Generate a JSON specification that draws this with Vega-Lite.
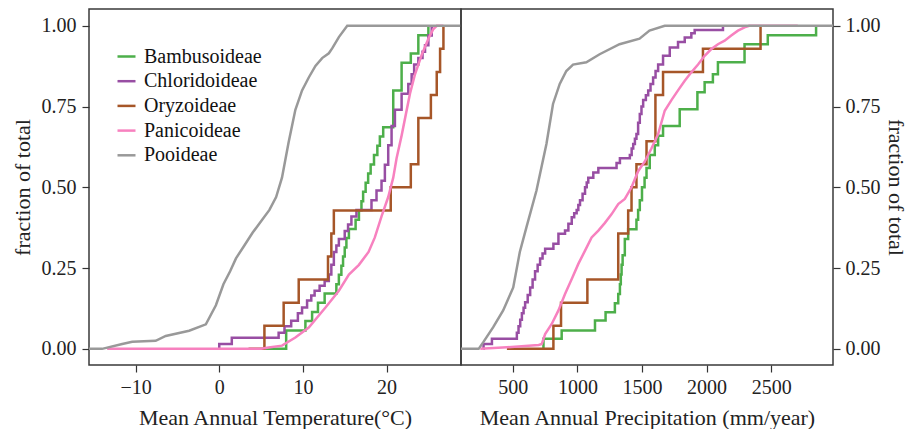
{
  "$schema": "https://vega.github.io/schema/vega-lite/v6.json",
  "padding": {"left": 10, "top": 8, "right": 0, "bottom": 0},
  "autosize": {"type": "pad"},
  "spacing": 0,
  "bounds": "flush",
  "background": "white",
  "config": {
    "font": "Liberation Serif",
    "view": {"stroke": "#3a3a3a", "strokeWidth": 1.5},
    "axis": {
      "grid": false, "domain": false, "tickColor": "#333333", "tickSize": 7, "tickWidth": 1.2,
      "labelFont": "Liberation Serif", "labelFontSize": 20, "labelColor": "#222222",
      "titleFont": "Liberation Serif", "titleFontSize": 22, "titleFontWeight": "normal", "titleColor": "#222222"
    }
  },
  "resolve": {
    "scale": {"x": "independent", "y": "independent", "color": "independent"},
    "legend": {"color": "independent"}
  },
  "datasets": {
    "temp": [
      {"g": "Bambusoideae", "x": 5.5, "y": 0},
      {"g": "Bambusoideae", "x": 8.0, "y": 0.057},
      {"g": "Bambusoideae", "x": 10.3, "y": 0.086},
      {"g": "Bambusoideae", "x": 11.1, "y": 0.114},
      {"g": "Bambusoideae", "x": 11.8, "y": 0.143},
      {"g": "Bambusoideae", "x": 12.6, "y": 0.171},
      {"g": "Bambusoideae", "x": 14.0, "y": 0.2},
      {"g": "Bambusoideae", "x": 14.3, "y": 0.229},
      {"g": "Bambusoideae", "x": 14.6, "y": 0.257},
      {"g": "Bambusoideae", "x": 14.8, "y": 0.286},
      {"g": "Bambusoideae", "x": 15.0, "y": 0.314},
      {"g": "Bambusoideae", "x": 15.2, "y": 0.343},
      {"g": "Bambusoideae", "x": 15.5, "y": 0.371},
      {"g": "Bambusoideae", "x": 16.3, "y": 0.4},
      {"g": "Bambusoideae", "x": 16.7, "y": 0.429},
      {"g": "Bambusoideae", "x": 17.0, "y": 0.457},
      {"g": "Bambusoideae", "x": 17.2, "y": 0.486},
      {"g": "Bambusoideae", "x": 17.5, "y": 0.514},
      {"g": "Bambusoideae", "x": 17.8, "y": 0.543},
      {"g": "Bambusoideae", "x": 18.1, "y": 0.571},
      {"g": "Bambusoideae", "x": 18.5, "y": 0.6},
      {"g": "Bambusoideae", "x": 18.9, "y": 0.629},
      {"g": "Bambusoideae", "x": 19.2, "y": 0.657},
      {"g": "Bambusoideae", "x": 19.6, "y": 0.686},
      {"g": "Bambusoideae", "x": 20.8, "y": 0.8},
      {"g": "Bambusoideae", "x": 21.8, "y": 0.886},
      {"g": "Bambusoideae", "x": 22.9, "y": 0.914},
      {"g": "Bambusoideae", "x": 23.8, "y": 0.971},
      {"g": "Bambusoideae", "x": 25.0, "y": 1.0},
      {"g": "Chloridoideae", "x": -0.01, "y": 0},
      {"g": "Chloridoideae", "x": 0.0, "y": 0.015},
      {"g": "Chloridoideae", "x": 1.5, "y": 0.034},
      {"g": "Chloridoideae", "x": 7.1, "y": 0.05},
      {"g": "Chloridoideae", "x": 7.8, "y": 0.07},
      {"g": "Chloridoideae", "x": 8.6, "y": 0.087},
      {"g": "Chloridoideae", "x": 9.4, "y": 0.11},
      {"g": "Chloridoideae", "x": 9.9, "y": 0.128},
      {"g": "Chloridoideae", "x": 10.5, "y": 0.15},
      {"g": "Chloridoideae", "x": 11.0, "y": 0.165},
      {"g": "Chloridoideae", "x": 11.4, "y": 0.18},
      {"g": "Chloridoideae", "x": 12.0, "y": 0.195},
      {"g": "Chloridoideae", "x": 12.6, "y": 0.21},
      {"g": "Chloridoideae", "x": 13.1, "y": 0.23},
      {"g": "Chloridoideae", "x": 13.4, "y": 0.26},
      {"g": "Chloridoideae", "x": 13.7, "y": 0.3},
      {"g": "Chloridoideae", "x": 14.0, "y": 0.32},
      {"g": "Chloridoideae", "x": 14.3, "y": 0.34},
      {"g": "Chloridoideae", "x": 15.0, "y": 0.365},
      {"g": "Chloridoideae", "x": 15.4, "y": 0.385},
      {"g": "Chloridoideae", "x": 15.8, "y": 0.41},
      {"g": "Chloridoideae", "x": 16.4, "y": 0.43},
      {"g": "Chloridoideae", "x": 18.2, "y": 0.46},
      {"g": "Chloridoideae", "x": 18.8, "y": 0.49},
      {"g": "Chloridoideae", "x": 19.4, "y": 0.52},
      {"g": "Chloridoideae", "x": 19.8, "y": 0.57},
      {"g": "Chloridoideae", "x": 20.2, "y": 0.63},
      {"g": "Chloridoideae", "x": 20.6, "y": 0.69},
      {"g": "Chloridoideae", "x": 21.0, "y": 0.74},
      {"g": "Chloridoideae", "x": 21.8, "y": 0.79},
      {"g": "Chloridoideae", "x": 22.6, "y": 0.82},
      {"g": "Chloridoideae", "x": 23.0, "y": 0.85},
      {"g": "Chloridoideae", "x": 23.3, "y": 0.88},
      {"g": "Chloridoideae", "x": 23.8, "y": 0.9},
      {"g": "Chloridoideae", "x": 24.3, "y": 0.92},
      {"g": "Chloridoideae", "x": 24.6, "y": 0.94},
      {"g": "Chloridoideae", "x": 25.0, "y": 0.97},
      {"g": "Chloridoideae", "x": 25.4, "y": 1.0},
      {"g": "Oryzoideae", "x": 3.5, "y": 0},
      {"g": "Oryzoideae", "x": 5.4, "y": 0.0714},
      {"g": "Oryzoideae", "x": 7.7, "y": 0.1429},
      {"g": "Oryzoideae", "x": 9.5, "y": 0.2143},
      {"g": "Oryzoideae", "x": 13.0, "y": 0.2857},
      {"g": "Oryzoideae", "x": 13.4, "y": 0.3571},
      {"g": "Oryzoideae", "x": 13.7, "y": 0.4286},
      {"g": "Oryzoideae", "x": 20.5, "y": 0.5},
      {"g": "Oryzoideae", "x": 22.9, "y": 0.5714},
      {"g": "Oryzoideae", "x": 23.8, "y": 0.7143},
      {"g": "Oryzoideae", "x": 25.3, "y": 0.7857},
      {"g": "Oryzoideae", "x": 26.0, "y": 0.8571},
      {"g": "Oryzoideae", "x": 26.4, "y": 0.9286},
      {"g": "Oryzoideae", "x": 26.8, "y": 1.0},
      {"g": "Panicoideae", "x": -13.4, "y": 0},
      {"g": "Panicoideae", "x": 5.0, "y": 0},
      {"g": "Panicoideae", "x": 5.9, "y": 0.004},
      {"g": "Panicoideae", "x": 7.5, "y": 0.01},
      {"g": "Panicoideae", "x": 9.1, "y": 0.035},
      {"g": "Panicoideae", "x": 10.7, "y": 0.066},
      {"g": "Panicoideae", "x": 12.7, "y": 0.128},
      {"g": "Panicoideae", "x": 14.3, "y": 0.18},
      {"g": "Panicoideae", "x": 15.5, "y": 0.23},
      {"g": "Panicoideae", "x": 16.7, "y": 0.26},
      {"g": "Panicoideae", "x": 17.85, "y": 0.3},
      {"g": "Panicoideae", "x": 18.6, "y": 0.345},
      {"g": "Panicoideae", "x": 19.4, "y": 0.41},
      {"g": "Panicoideae", "x": 20.2, "y": 0.47},
      {"g": "Panicoideae", "x": 20.8, "y": 0.53},
      {"g": "Panicoideae", "x": 21.2, "y": 0.59},
      {"g": "Panicoideae", "x": 21.8, "y": 0.66},
      {"g": "Panicoideae", "x": 22.8, "y": 0.79},
      {"g": "Panicoideae", "x": 23.4, "y": 0.85},
      {"g": "Panicoideae", "x": 24.2, "y": 0.91},
      {"g": "Panicoideae", "x": 25.0, "y": 0.96},
      {"g": "Panicoideae", "x": 25.6, "y": 0.99},
      {"g": "Panicoideae", "x": 26.0, "y": 1.0},
      {"g": "Panicoideae", "x": 26.8, "y": 1.0},
      {"g": "Pooideae", "x": -17, "y": 0},
      {"g": "Pooideae", "x": -14, "y": 0},
      {"g": "Pooideae", "x": -11.6, "y": 0.015},
      {"g": "Pooideae", "x": -10.4, "y": 0.022},
      {"g": "Pooideae", "x": -7.6, "y": 0.025},
      {"g": "Pooideae", "x": -6.4, "y": 0.04},
      {"g": "Pooideae", "x": -3.6, "y": 0.056},
      {"g": "Pooideae", "x": -1.6, "y": 0.076},
      {"g": "Pooideae", "x": -0.4, "y": 0.135},
      {"g": "Pooideae", "x": 0.5, "y": 0.2},
      {"g": "Pooideae", "x": 1.3, "y": 0.24},
      {"g": "Pooideae", "x": 2.0, "y": 0.28},
      {"g": "Pooideae", "x": 3.0, "y": 0.32},
      {"g": "Pooideae", "x": 4.0, "y": 0.36},
      {"g": "Pooideae", "x": 5.0, "y": 0.395},
      {"g": "Pooideae", "x": 6.0, "y": 0.43},
      {"g": "Pooideae", "x": 6.8, "y": 0.47},
      {"g": "Pooideae", "x": 7.5, "y": 0.53},
      {"g": "Pooideae", "x": 8.3, "y": 0.64},
      {"g": "Pooideae", "x": 9.1, "y": 0.74},
      {"g": "Pooideae", "x": 9.9, "y": 0.8},
      {"g": "Pooideae", "x": 10.7, "y": 0.84},
      {"g": "Pooideae", "x": 11.5, "y": 0.876},
      {"g": "Pooideae", "x": 12.3, "y": 0.9},
      {"g": "Pooideae", "x": 13.1, "y": 0.915},
      {"g": "Pooideae", "x": 13.5, "y": 0.93},
      {"g": "Pooideae", "x": 14.3, "y": 0.965},
      {"g": "Pooideae", "x": 15.3, "y": 1.0},
      {"g": "Pooideae", "x": 31, "y": 1.0}
    ],
    "prec": [
      {"g": "Bambusoideae", "x": 736, "y": 0},
      {"g": "Bambusoideae", "x": 737, "y": 0.031},
      {"g": "Bambusoideae", "x": 878, "y": 0.057},
      {"g": "Bambusoideae", "x": 1136, "y": 0.088},
      {"g": "Bambusoideae", "x": 1218, "y": 0.113},
      {"g": "Bambusoideae", "x": 1290, "y": 0.141},
      {"g": "Bambusoideae", "x": 1316, "y": 0.17},
      {"g": "Bambusoideae", "x": 1329, "y": 0.2},
      {"g": "Bambusoideae", "x": 1336, "y": 0.23},
      {"g": "Bambusoideae", "x": 1342, "y": 0.26},
      {"g": "Bambusoideae", "x": 1350, "y": 0.29},
      {"g": "Bambusoideae", "x": 1367, "y": 0.34},
      {"g": "Bambusoideae", "x": 1393, "y": 0.37},
      {"g": "Bambusoideae", "x": 1457, "y": 0.4},
      {"g": "Bambusoideae", "x": 1470, "y": 0.43},
      {"g": "Bambusoideae", "x": 1483, "y": 0.46},
      {"g": "Bambusoideae", "x": 1500, "y": 0.5},
      {"g": "Bambusoideae", "x": 1520, "y": 0.53},
      {"g": "Bambusoideae", "x": 1535, "y": 0.56},
      {"g": "Bambusoideae", "x": 1560, "y": 0.6},
      {"g": "Bambusoideae", "x": 1599, "y": 0.63},
      {"g": "Bambusoideae", "x": 1625, "y": 0.66},
      {"g": "Bambusoideae", "x": 1663, "y": 0.69},
      {"g": "Bambusoideae", "x": 1792, "y": 0.742},
      {"g": "Bambusoideae", "x": 1929, "y": 0.794},
      {"g": "Bambusoideae", "x": 1985, "y": 0.825},
      {"g": "Bambusoideae", "x": 2049, "y": 0.85},
      {"g": "Bambusoideae", "x": 2088, "y": 0.887},
      {"g": "Bambusoideae", "x": 2294, "y": 0.943},
      {"g": "Bambusoideae", "x": 2474, "y": 0.971},
      {"g": "Bambusoideae", "x": 2848, "y": 1.0},
      {"g": "Chloridoideae", "x": 272, "y": 0},
      {"g": "Chloridoideae", "x": 273, "y": 0.015},
      {"g": "Chloridoideae", "x": 338, "y": 0.031},
      {"g": "Chloridoideae", "x": 531, "y": 0.05},
      {"g": "Chloridoideae", "x": 544, "y": 0.07},
      {"g": "Chloridoideae", "x": 557, "y": 0.09},
      {"g": "Chloridoideae", "x": 570, "y": 0.11},
      {"g": "Chloridoideae", "x": 583, "y": 0.127},
      {"g": "Chloridoideae", "x": 595, "y": 0.144},
      {"g": "Chloridoideae", "x": 615, "y": 0.167},
      {"g": "Chloridoideae", "x": 634, "y": 0.19},
      {"g": "Chloridoideae", "x": 653, "y": 0.215},
      {"g": "Chloridoideae", "x": 672, "y": 0.24},
      {"g": "Chloridoideae", "x": 692, "y": 0.26},
      {"g": "Chloridoideae", "x": 711, "y": 0.28},
      {"g": "Chloridoideae", "x": 730, "y": 0.295},
      {"g": "Chloridoideae", "x": 750, "y": 0.31},
      {"g": "Chloridoideae", "x": 814, "y": 0.325},
      {"g": "Chloridoideae", "x": 853, "y": 0.356},
      {"g": "Chloridoideae", "x": 904, "y": 0.366},
      {"g": "Chloridoideae", "x": 930, "y": 0.387},
      {"g": "Chloridoideae", "x": 956, "y": 0.407},
      {"g": "Chloridoideae", "x": 975, "y": 0.42},
      {"g": "Chloridoideae", "x": 994, "y": 0.43},
      {"g": "Chloridoideae", "x": 1007, "y": 0.445},
      {"g": "Chloridoideae", "x": 1020, "y": 0.46},
      {"g": "Chloridoideae", "x": 1040, "y": 0.48},
      {"g": "Chloridoideae", "x": 1059, "y": 0.5},
      {"g": "Chloridoideae", "x": 1072, "y": 0.515},
      {"g": "Chloridoideae", "x": 1084, "y": 0.53},
      {"g": "Chloridoideae", "x": 1123, "y": 0.546},
      {"g": "Chloridoideae", "x": 1162, "y": 0.56},
      {"g": "Chloridoideae", "x": 1303, "y": 0.575},
      {"g": "Chloridoideae", "x": 1329, "y": 0.59},
      {"g": "Chloridoideae", "x": 1406, "y": 0.6},
      {"g": "Chloridoideae", "x": 1420, "y": 0.62},
      {"g": "Chloridoideae", "x": 1432, "y": 0.634},
      {"g": "Chloridoideae", "x": 1445, "y": 0.65},
      {"g": "Chloridoideae", "x": 1457, "y": 0.665},
      {"g": "Chloridoideae", "x": 1470, "y": 0.7},
      {"g": "Chloridoideae", "x": 1483, "y": 0.727},
      {"g": "Chloridoideae", "x": 1496, "y": 0.75},
      {"g": "Chloridoideae", "x": 1509, "y": 0.77},
      {"g": "Chloridoideae", "x": 1530, "y": 0.785},
      {"g": "Chloridoideae", "x": 1548, "y": 0.8},
      {"g": "Chloridoideae", "x": 1566, "y": 0.82},
      {"g": "Chloridoideae", "x": 1586, "y": 0.84},
      {"g": "Chloridoideae", "x": 1605, "y": 0.86},
      {"g": "Chloridoideae", "x": 1625, "y": 0.88},
      {"g": "Chloridoideae", "x": 1663, "y": 0.907},
      {"g": "Chloridoideae", "x": 1715, "y": 0.933},
      {"g": "Chloridoideae", "x": 1779, "y": 0.95},
      {"g": "Chloridoideae", "x": 1831, "y": 0.964},
      {"g": "Chloridoideae", "x": 1882, "y": 0.977},
      {"g": "Chloridoideae", "x": 1908, "y": 0.987},
      {"g": "Chloridoideae", "x": 2127, "y": 1.0},
      {"g": "Oryzoideae", "x": 454, "y": 0},
      {"g": "Oryzoideae", "x": 814, "y": 0.0714},
      {"g": "Oryzoideae", "x": 873, "y": 0.1429},
      {"g": "Oryzoideae", "x": 1077, "y": 0.2143},
      {"g": "Oryzoideae", "x": 1316, "y": 0.3571},
      {"g": "Oryzoideae", "x": 1393, "y": 0.4286},
      {"g": "Oryzoideae", "x": 1419, "y": 0.5},
      {"g": "Oryzoideae", "x": 1457, "y": 0.5714},
      {"g": "Oryzoideae", "x": 1535, "y": 0.6429},
      {"g": "Oryzoideae", "x": 1604, "y": 0.7857},
      {"g": "Oryzoideae", "x": 1663, "y": 0.8571},
      {"g": "Oryzoideae", "x": 1972, "y": 0.9286},
      {"g": "Oryzoideae", "x": 2418, "y": 1.0},
      {"g": "Panicoideae", "x": 248, "y": 0},
      {"g": "Panicoideae", "x": 454, "y": 0.005},
      {"g": "Panicoideae", "x": 700, "y": 0.012},
      {"g": "Panicoideae", "x": 724, "y": 0.015},
      {"g": "Panicoideae", "x": 750, "y": 0.046},
      {"g": "Panicoideae", "x": 801, "y": 0.077},
      {"g": "Panicoideae", "x": 853, "y": 0.119},
      {"g": "Panicoideae", "x": 904, "y": 0.17},
      {"g": "Panicoideae", "x": 956, "y": 0.216},
      {"g": "Panicoideae", "x": 1007, "y": 0.263},
      {"g": "Panicoideae", "x": 1059, "y": 0.304},
      {"g": "Panicoideae", "x": 1110, "y": 0.345},
      {"g": "Panicoideae", "x": 1162, "y": 0.366},
      {"g": "Panicoideae", "x": 1213, "y": 0.39},
      {"g": "Panicoideae", "x": 1265, "y": 0.417},
      {"g": "Panicoideae", "x": 1316, "y": 0.448},
      {"g": "Panicoideae", "x": 1367, "y": 0.464},
      {"g": "Panicoideae", "x": 1419, "y": 0.5},
      {"g": "Panicoideae", "x": 1470, "y": 0.55},
      {"g": "Panicoideae", "x": 1522, "y": 0.58},
      {"g": "Panicoideae", "x": 1573, "y": 0.62},
      {"g": "Panicoideae", "x": 1625, "y": 0.665},
      {"g": "Panicoideae", "x": 1676, "y": 0.737},
      {"g": "Panicoideae", "x": 1728, "y": 0.77},
      {"g": "Panicoideae", "x": 1779, "y": 0.8},
      {"g": "Panicoideae", "x": 1831, "y": 0.83},
      {"g": "Panicoideae", "x": 1882, "y": 0.856},
      {"g": "Panicoideae", "x": 1934, "y": 0.88},
      {"g": "Panicoideae", "x": 1985, "y": 0.907},
      {"g": "Panicoideae", "x": 2037, "y": 0.928},
      {"g": "Panicoideae", "x": 2088, "y": 0.943},
      {"g": "Panicoideae", "x": 2140, "y": 0.954},
      {"g": "Panicoideae", "x": 2191, "y": 0.97},
      {"g": "Panicoideae", "x": 2243, "y": 0.985},
      {"g": "Panicoideae", "x": 2294, "y": 0.995},
      {"g": "Panicoideae", "x": 2330, "y": 1.0},
      {"g": "Panicoideae", "x": 2706, "y": 1.0},
      {"g": "Pooideae", "x": 50, "y": 0},
      {"g": "Pooideae", "x": 235, "y": 0},
      {"g": "Pooideae", "x": 270, "y": 0.02},
      {"g": "Pooideae", "x": 348, "y": 0.067},
      {"g": "Pooideae", "x": 425, "y": 0.119},
      {"g": "Pooideae", "x": 503, "y": 0.19},
      {"g": "Pooideae", "x": 554, "y": 0.3},
      {"g": "Pooideae", "x": 605, "y": 0.376},
      {"g": "Pooideae", "x": 683, "y": 0.49},
      {"g": "Pooideae", "x": 760, "y": 0.634},
      {"g": "Pooideae", "x": 811, "y": 0.758},
      {"g": "Pooideae", "x": 863, "y": 0.82},
      {"g": "Pooideae", "x": 914, "y": 0.86},
      {"g": "Pooideae", "x": 966, "y": 0.88},
      {"g": "Pooideae", "x": 1069, "y": 0.887},
      {"g": "Pooideae", "x": 1172, "y": 0.912},
      {"g": "Pooideae", "x": 1326, "y": 0.943},
      {"g": "Pooideae", "x": 1481, "y": 0.96},
      {"g": "Pooideae", "x": 1558, "y": 0.985},
      {"g": "Pooideae", "x": 1676, "y": 1.0},
      {"g": "Pooideae", "x": 3100, "y": 1.0}
    ]
  },
  "hconcat": [
    {
      "width": 372,
      "height": 356,
      "data": {"name": "temp"},
      "encoding": {
        "x": {"field": "x", "type": "quantitative",
          "scale": {"domain": [-15.57, 28.9], "nice": false, "zero": false},
          "axis": {"values": [-10, 0, 10, 20], "title": "Mean Annual Temperature(°C)", "labelPadding": 5, "titlePadding": 10}},
        "y": {"field": "y", "type": "quantitative",
          "scale": {"domain": [-0.05, 1.052], "nice": false, "zero": false},
          "axis": {"values": [0, 0.25, 0.5, 0.75, 1], "format": ".2f", "title": "fraction of total", "labelPadding": 6, "titleX": -60, "titleBaseline": "alphabetic"}},
        "color": {"field": "g", "type": "nominal", "title": null,
          "scale": {"domain": ["Bambusoideae", "Chloridoideae", "Oryzoideae", "Panicoideae", "Pooideae"],
                    "range": ["#4DAF4A", "#984EA3", "#A65628", "#F781BF", "#999999"]},
          "legend": {"orient": "none", "legendX": 27, "legendY": 37, "symbolType": "stroke", "symbolSize": 324,
                     "symbolStrokeWidth": 2.5, "labelFontSize": 20, "labelFont": "Liberation Serif", "labelColor": "#111111",
                     "rowPadding": 3.7, "labelOffset": 7}}
      },
      "layer": [
        {"transform": [{"filter": {"field": "g", "oneOf": ["Bambusoideae", "Chloridoideae", "Oryzoideae"]}}],
         "mark": {"type": "line", "interpolate": "step-after", "strokeWidth": 2.5, "clip": true}},
        {"transform": [{"filter": {"field": "g", "oneOf": ["Panicoideae", "Pooideae"]}}],
         "mark": {"type": "line", "interpolate": "linear", "strokeWidth": 2.5, "clip": true}}
      ]
    },
    {
      "width": 372,
      "height": 356,
      "data": {"name": "prec"},
      "encoding": {
        "x": {"field": "x", "type": "quantitative",
          "scale": {"domain": [98.5, 2979], "nice": false, "zero": false},
          "axis": {"values": [500, 1000, 1500, 2000, 2500], "format": "d", "title": "Mean Annual Precipitation (mm/year)", "labelPadding": 5, "titlePadding": 10}},
        "y": {"field": "y", "type": "quantitative",
          "scale": {"domain": [-0.05, 1.052], "nice": false, "zero": false},
          "axis": {"orient": "right", "values": [0, 0.25, 0.5, 0.75, 1], "format": ".2f", "title": "fraction of total", "labelPadding": 5, "titleX": 55, "titleBaseline": "alphabetic"}},
        "color": {"field": "g", "type": "nominal", "legend": null,
          "scale": {"domain": ["Bambusoideae", "Chloridoideae", "Oryzoideae", "Panicoideae", "Pooideae"],
                    "range": ["#4DAF4A", "#984EA3", "#A65628", "#F781BF", "#999999"]}}
      },
      "layer": [
        {"transform": [{"filter": {"field": "g", "oneOf": ["Bambusoideae", "Chloridoideae", "Oryzoideae"]}}],
         "mark": {"type": "line", "interpolate": "step-after", "strokeWidth": 2.5, "clip": true}},
        {"transform": [{"filter": {"field": "g", "oneOf": ["Panicoideae", "Pooideae"]}}],
         "mark": {"type": "line", "interpolate": "linear", "strokeWidth": 2.5, "clip": true}}
      ]
    }
  ]
}
